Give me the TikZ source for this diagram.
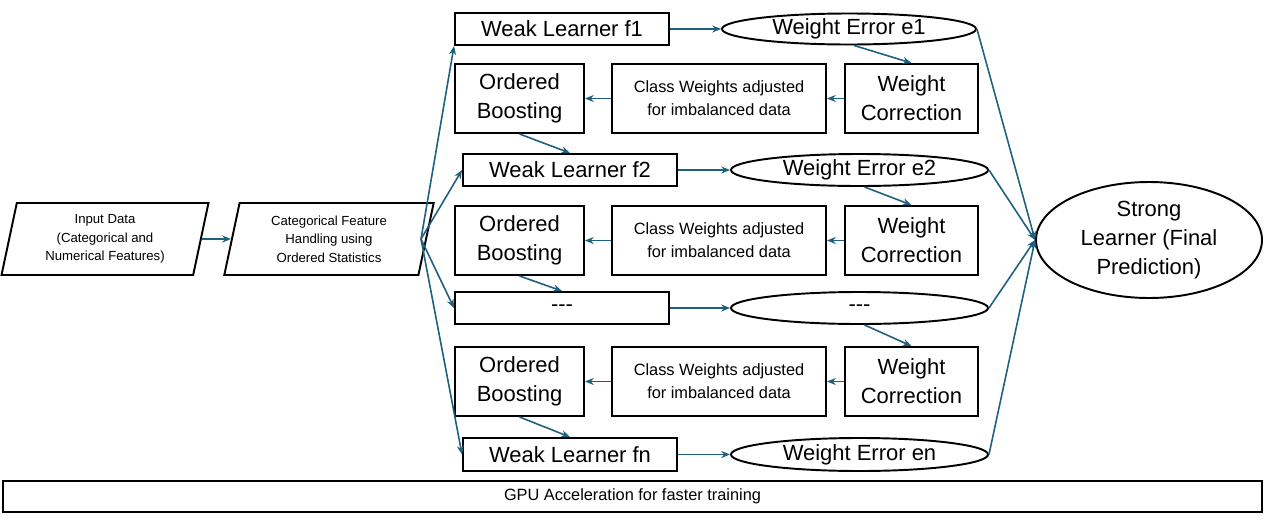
\documentclass[tikz,border=0pt]{standalone}
\usepackage{fontspec}
\setmainfont{Liberation Sans}
\usetikzlibrary{shapes.geometric,arrows.meta}
\definecolor{arr}{HTML}{1F5F7F}
\begin{document}
\begin{tikzpicture}[x=0.02cm,y=-0.02cm,
  box/.style={draw,line width=1.1pt,inner sep=0pt,align=center},
  big/.style={font=\fontsize{12.5}{16.5}\selectfont},
  mid/.style={font=\fontsize{9.3}{13}\selectfont},
  sm/.style={font=\fontsize{7.5}{10.5}\selectfont},
  ell/.style={draw,ellipse,line width=1.1pt,inner sep=0pt,align=center},
  para/.style={draw,trapezium,trapezium left angle=78,trapezium right angle=102,line width=1.1pt,align=center,inner sep=0pt,sm},
  a/.style={draw=arr,line width=0.9pt,-{Stealth[length=5pt,width=4pt]}}]
\useasboundingbox (0,0) rectangle (1264,521);
\node[para,minimum width=190*0.02cm,minimum height=72*0.02cm] (in) at (105,239) {Input Data\\(Categorical and\\Numerical Features)};
\node[para,minimum width=190*0.02cm,minimum height=72*0.02cm] (cat) at (329,239) {Categorical Feature\\Handling using\\Ordered Statistics};
\newcommand\rbox[6]{\node[box,#6,minimum width=#3*0.02cm,minimum height=#4*0.02cm] (#1) at #2 {#5};}
\newcommand\rell[5]{\node[ell,big,minimum width=#3*0.02cm,minimum height=#4*0.02cm] (#1) at #2 {#5};}
\rbox{w1}{(562,29)}{214}{32}{Weak Learner f1}{big}
\rell{e1}{(849,29)}{254}{31}{Weight Error e1}
\rbox{o1}{(519.5,98.5)}{129}{69}{Ordered\\Boosting}{big}
\rbox{c1}{(719,98.5)}{214}{69}{Class Weights adjusted\\for imbalanced data}{mid}
\rbox{k1}{(911.5,98.5)}{133}{69}{Weight\\Correction}{big}
\rbox{w2}{(570,170)}{214}{32}{Weak Learner f2}{big}
\rell{e2}{(859.5,170)}{257}{32}{Weight Error e2}
\rbox{o2}{(519.5,240.5)}{129}{69}{Ordered\\Boosting}{big}
\rbox{c2}{(719,240.5)}{214}{69}{Class Weights adjusted\\for imbalanced data}{mid}
\rbox{k2}{(911.5,240.5)}{133}{69}{Weight\\Correction}{big}
\rbox{w3}{(562,308)}{214}{32}{{-}{-}{-}}{big}
\rell{e3}{(859.5,308)}{257}{32}{{-}{-}{-}}
\rbox{o3}{(519.5,381.5)}{129}{69}{Ordered\\Boosting}{big}
\rbox{c3}{(719,381.5)}{214}{69}{Class Weights adjusted\\for imbalanced data}{mid}
\rbox{k3}{(911.5,381.5)}{133}{69}{Weight\\Correction}{big}
\rbox{w4}{(570,454.5)}{214}{33}{Weak Learner fn}{big}
\rell{e4}{(859.5,454.5)}{257}{33}{Weight Error en}
\node[ell,big,minimum width=226*0.02cm,minimum height=116*0.02cm] (s) at (1149,240) {Strong\\Learner (Final\\Prediction)};
\rbox{g}{(632.5,496.5)}{1259}{31}{GPU Acceleration for faster training}{mid}
\draw[a] (in) -- (cat);
\coordinate (cr) at (421,239);
\draw[a] (cr) -- (w1.south west);
\draw[a] (cr) -- (w2.west);
\draw[a] (cr) -- (w3.west);
\draw[a] (cr) -- (w4.west);
\foreach \i in {1,2,3,4} {\draw[a] (w\i) -- (e\i);}
\foreach \i in {1,2,3} {
  \draw[a] (k\i) -- (c\i);
  \draw[a] (c\i) -- (o\i);
  \draw[a] (e\i.south) ++(5,0) coordinate (t\i) -- (k\i.north);
}
\draw[a] (o1.south) -- (w2.north);
\draw[a] (o2.south) -- (w3.north);
\draw[a] (o3.south) -- (w4.north);
\draw[a] (e1.east) -- (s.west);
\draw[a] (e2.east) -- (s.west);
\draw[a] (e3.east) -- (s.west);
\draw[a] (e4.east) -- (s.west);
\end{tikzpicture}
\end{document}
